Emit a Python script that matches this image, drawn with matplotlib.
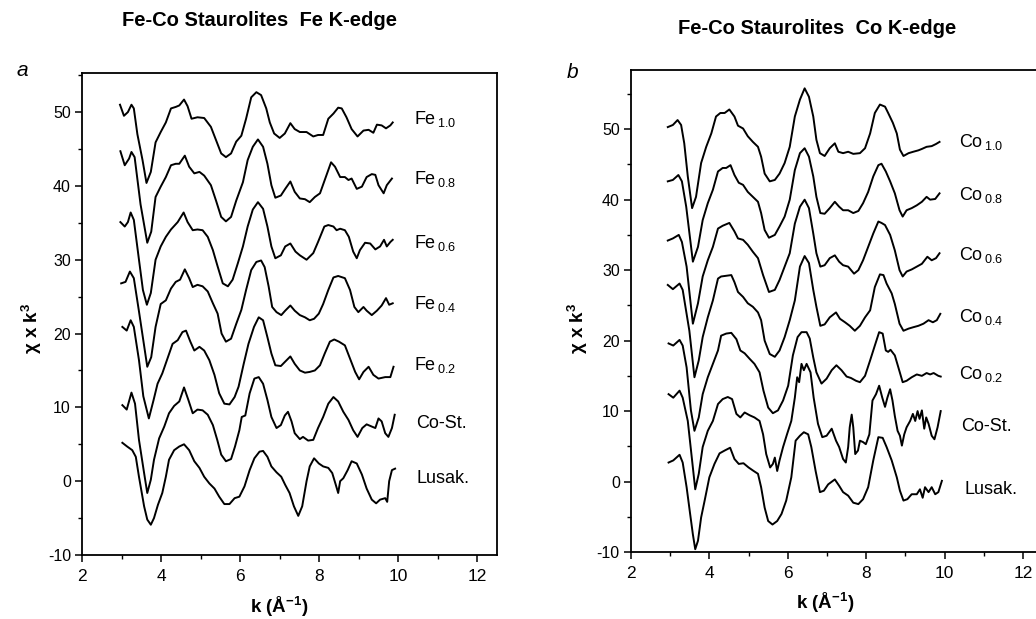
import matplotlib.pyplot as plt
from matplotlib.ticker import MultipleLocator

plt.rcParams['font.family'] = ['Liberation Sans', 'DejaVu Sans']
plt.rcParams['mathtext.default'] = 'regular'
plt.rcParams['axes.unicode_minus'] = False

# ---- panel a: Fe K-edge, (k, chi*k^3) ----
fe_10 = [(2.96, 51.0), (3.06, 49.5), (3.16, 50.0), (3.25, 51.0), (3.31, 50.5), (3.40, 47.0), (3.53, 43.5),
         (3.63, 40.4), (3.74, 41.9), (3.86, 45.9), (3.99, 47.3), (4.12, 48.6), (4.25, 50.5), (4.37, 50.7),
         (4.46, 50.9), (4.58, 51.7), (4.67, 50.8), (4.77, 49.1), (4.92, 49.3), (5.09, 49.2), (5.26, 48.0),
         (5.39, 46.2), (5.52, 44.4), (5.64, 43.9), (5.77, 44.4), (5.90, 46.0), (6.03, 46.8), (6.15, 49.1),
         (6.28, 52.0), (6.41, 52.7), (6.53, 52.3), (6.66, 50.5), (6.75, 48.6), (6.86, 47.1), (7.00, 46.5),
         (7.13, 47.1), (7.27, 48.5), (7.38, 47.7), (7.51, 47.3), (7.68, 47.3), (7.85, 46.7), (7.97, 46.9),
         (8.10, 46.9), (8.23, 49.1), (8.36, 49.8), (8.48, 50.6), (8.57, 50.5), (8.69, 49.3), (8.82, 47.7),
         (8.97, 46.7), (9.12, 47.5), (9.25, 47.6), (9.37, 47.2), (9.46, 48.3), (9.58, 48.2), (9.69, 47.8),
         (9.80, 48.2), (9.86, 48.6)]
fe_08 = [(2.97, 44.7), (3.08, 42.8), (3.19, 43.7), (3.25, 44.6), (3.33, 43.9), (3.48, 37.5), (3.65, 32.3),
         (3.75, 33.8), (3.86, 38.5), (3.99, 39.9), (4.12, 41.2), (4.25, 42.8), (4.37, 43.0), (4.46, 43.0),
         (4.60, 44.1), (4.71, 42.6), (4.84, 41.7), (4.97, 41.9), (5.09, 41.4), (5.26, 40.1), (5.39, 38.0),
         (5.52, 35.8), (5.64, 35.2), (5.77, 35.8), (5.90, 38.0), (6.07, 40.5), (6.19, 43.5), (6.32, 45.3),
         (6.45, 46.3), (6.58, 45.3), (6.69, 43.0), (6.79, 40.1), (6.89, 38.4), (7.03, 38.7), (7.14, 39.6),
         (7.27, 40.6), (7.38, 39.2), (7.51, 38.3), (7.64, 38.2), (7.76, 37.8), (7.89, 38.5), (8.02, 39.0),
         (8.14, 40.8), (8.30, 43.2), (8.40, 42.6), (8.53, 41.2), (8.65, 41.2), (8.74, 40.8), (8.82, 41.0),
         (8.95, 39.6), (9.08, 39.9), (9.20, 41.2), (9.33, 41.6), (9.42, 41.5), (9.50, 40.1), (9.63, 39.0),
         (9.71, 40.1), (9.84, 41.0)]
fe_06 = [(2.97, 35.1), (3.08, 34.5), (3.16, 35.1), (3.23, 36.4), (3.31, 35.4), (3.44, 30.0), (3.54, 25.9),
         (3.64, 23.9), (3.74, 25.5), (3.86, 30.0), (3.99, 31.8), (4.12, 33.1), (4.25, 34.1), (4.42, 35.1),
         (4.57, 36.4), (4.67, 35.1), (4.80, 34.0), (4.92, 34.1), (5.05, 34.0), (5.18, 33.1), (5.31, 31.3),
         (5.43, 29.1), (5.56, 26.8), (5.69, 26.4), (5.81, 27.3), (5.94, 29.5), (6.07, 31.8), (6.19, 34.5),
         (6.32, 36.8), (6.45, 37.8), (6.58, 36.9), (6.69, 34.5), (6.79, 31.8), (6.89, 30.2), (7.03, 30.6),
         (7.14, 31.8), (7.27, 32.2), (7.40, 31.1), (7.51, 30.6), (7.68, 30.0), (7.85, 30.9), (7.97, 32.4),
         (8.13, 34.5), (8.23, 34.7), (8.36, 34.5), (8.44, 34.0), (8.53, 34.2), (8.65, 34.0), (8.75, 33.1),
         (8.86, 31.1), (8.95, 30.2), (9.03, 31.3), (9.16, 32.3), (9.29, 32.2), (9.42, 31.4), (9.54, 31.8),
         (9.64, 32.7), (9.71, 31.8), (9.80, 32.4), (9.86, 32.7)]
fe_04 = [(2.99, 26.8), (3.10, 27.0), (3.21, 28.4), (3.31, 27.5), (3.44, 23.0), (3.65, 15.5), (3.75, 16.8),
         (3.86, 20.9), (3.99, 24.0), (4.12, 24.5), (4.25, 26.1), (4.37, 27.0), (4.48, 27.3), (4.60, 28.7),
         (4.71, 27.5), (4.80, 26.3), (4.92, 26.6), (5.05, 26.4), (5.18, 25.7), (5.31, 24.1), (5.43, 22.7),
         (5.53, 20.0), (5.64, 18.9), (5.77, 19.3), (5.90, 21.3), (6.03, 23.2), (6.15, 25.9), (6.28, 28.6),
         (6.41, 29.7), (6.53, 29.9), (6.62, 29.0), (6.72, 26.4), (6.81, 23.6), (6.92, 22.9), (7.04, 22.5),
         (7.14, 23.1), (7.27, 23.8), (7.38, 23.1), (7.51, 22.5), (7.64, 22.2), (7.76, 21.8), (7.87, 22.0),
         (7.99, 22.7), (8.10, 24.0), (8.23, 25.9), (8.36, 27.6), (8.48, 27.8), (8.65, 27.5), (8.78, 25.9),
         (8.89, 23.6), (8.99, 22.9), (9.12, 23.6), (9.20, 23.1), (9.33, 22.5), (9.46, 23.1), (9.58, 23.8),
         (9.69, 24.8), (9.77, 23.9), (9.86, 24.1)]
fe_02 = [(3.02, 20.9), (3.13, 20.4), (3.23, 21.8), (3.31, 20.9), (3.44, 16.4), (3.55, 11.5), (3.69, 8.5),
         (3.81, 11.0), (3.91, 13.2), (4.03, 14.6), (4.16, 16.6), (4.29, 18.6), (4.42, 19.1), (4.54, 20.2),
         (4.63, 20.4), (4.74, 18.9), (4.84, 17.7), (4.97, 18.2), (5.09, 17.7), (5.22, 16.4), (5.35, 14.4),
         (5.47, 11.9), (5.60, 10.5), (5.73, 10.4), (5.86, 11.4), (5.96, 12.8), (6.09, 15.9), (6.21, 18.6),
         (6.35, 20.9), (6.47, 22.2), (6.58, 21.8), (6.69, 19.5), (6.79, 17.3), (6.89, 15.7), (7.03, 15.6),
         (7.14, 16.2), (7.27, 16.9), (7.38, 15.9), (7.51, 15.0), (7.64, 14.7), (7.76, 14.8), (7.89, 15.0),
         (8.02, 15.7), (8.14, 17.3), (8.27, 18.9), (8.38, 19.2), (8.50, 18.9), (8.65, 18.4), (8.78, 16.6),
         (8.91, 14.8), (9.01, 13.8), (9.12, 14.8), (9.25, 15.5), (9.37, 14.4), (9.50, 13.9), (9.67, 14.1),
         (9.80, 14.1), (9.88, 15.5)]
cost_a = [(3.02, 10.3), (3.13, 9.7), (3.25, 12.0), (3.34, 10.5), (3.44, 5.6), (3.57, 1.1), (3.65, -1.6),
          (3.74, 0.2), (3.82, 2.9), (3.95, 5.8), (4.08, 7.4), (4.20, 9.2), (4.33, 10.2), (4.46, 10.8),
          (4.58, 12.7), (4.69, 11.0), (4.80, 9.2), (4.92, 9.7), (5.05, 9.6), (5.18, 9.0), (5.31, 7.6),
          (5.42, 5.6), (5.52, 3.6), (5.64, 2.7), (5.77, 3.0), (5.87, 4.7), (5.98, 6.9), (6.04, 8.7),
          (6.13, 8.9), (6.24, 11.9), (6.36, 13.9), (6.47, 14.1), (6.58, 13.2), (6.69, 11.0), (6.79, 8.7),
          (6.92, 7.2), (7.03, 7.6), (7.13, 8.9), (7.21, 9.4), (7.30, 8.1), (7.38, 6.5), (7.51, 5.7),
          (7.59, 6.0), (7.72, 5.5), (7.85, 5.6), (7.97, 7.2), (8.10, 8.7), (8.23, 10.5), (8.36, 11.4),
          (8.48, 10.8), (8.61, 9.4), (8.74, 8.3), (8.86, 6.9), (8.97, 6.0), (9.09, 7.2), (9.20, 7.7),
          (9.33, 7.4), (9.42, 7.2), (9.50, 8.5), (9.58, 8.1), (9.67, 6.5), (9.75, 6.0), (9.84, 7.2),
          (9.91, 9.0)]
lusak_a = [(3.02, 5.2), (3.14, 4.7), (3.27, 4.2), (3.36, 3.3), (3.44, 0.6), (3.57, -3.4), (3.65, -5.2),
           (3.74, -5.9), (3.82, -5.0), (3.92, -3.2), (4.03, -1.6), (4.12, 0.6), (4.20, 2.9), (4.33, 4.2),
           (4.46, 4.7), (4.58, 5.0), (4.71, 4.2), (4.84, 2.7), (4.97, 1.8), (5.09, 0.6), (5.22, -0.3),
           (5.35, -1.0), (5.47, -2.1), (5.60, -3.1), (5.73, -3.1), (5.86, -2.3), (5.98, -2.1), (6.11, -0.7),
           (6.24, 1.5), (6.36, 3.1), (6.49, 4.0), (6.58, 4.1), (6.69, 3.3), (6.79, 2.0), (6.92, 1.2),
           (7.04, 0.6), (7.14, -0.5), (7.25, -1.6), (7.36, -3.4), (7.47, -4.7), (7.57, -3.4), (7.68, 0.0),
           (7.76, 2.0), (7.87, 3.1), (7.99, 2.4), (8.10, 2.0), (8.23, 1.8), (8.33, 1.1), (8.42, -0.5),
           (8.48, -1.6), (8.53, 0.0), (8.61, 0.4), (8.72, 1.5), (8.82, 2.7), (8.95, 2.4), (9.08, 0.9),
           (9.20, -1.0), (9.33, -2.5), (9.44, -3.0), (9.54, -2.5), (9.67, -2.3), (9.72, -2.8), (9.77, 0.0),
           (9.84, 1.5), (9.92, 1.7)]

# ---- panel b: Co K-edge ----
co_10 = [(2.94, 50.3), (3.07, 50.6), (3.19, 51.3), (3.28, 50.6), (3.36, 48.0), (3.45, 43.3), (3.56, 38.8),
         (3.66, 40.4), (3.79, 45.2), (3.92, 47.5), (4.05, 49.4), (4.17, 51.8), (4.28, 52.3), (4.39, 52.3),
         (4.51, 52.8), (4.64, 51.8), (4.73, 50.5), (4.86, 50.1), (4.98, 49.0), (5.11, 48.2), (5.24, 47.5),
         (5.32, 46.1), (5.41, 43.7), (5.54, 42.6), (5.67, 42.8), (5.79, 43.7), (5.92, 45.2), (6.05, 47.5),
         (6.18, 51.8), (6.31, 54.2), (6.43, 55.8), (6.54, 54.6), (6.65, 51.8), (6.73, 48.5), (6.82, 46.6),
         (6.94, 46.2), (7.07, 47.3), (7.20, 48.0), (7.29, 46.8), (7.41, 46.6), (7.54, 46.8), (7.67, 46.5),
         (7.84, 46.6), (7.97, 47.3), (8.10, 49.4), (8.22, 52.3), (8.35, 53.5), (8.48, 53.2), (8.56, 52.3),
         (8.68, 50.9), (8.78, 49.4), (8.86, 47.1), (8.95, 46.2), (9.08, 46.6), (9.20, 46.8), (9.33, 47.0),
         (9.42, 47.2), (9.54, 47.5), (9.67, 47.6), (9.78, 47.9), (9.87, 48.2)]
co_08 = [(2.94, 42.6), (3.07, 42.8), (3.21, 43.5), (3.30, 42.6), (3.41, 39.0), (3.58, 31.2), (3.71, 33.3),
         (3.83, 37.1), (3.96, 39.5), (4.09, 41.4), (4.22, 44.0), (4.34, 44.5), (4.43, 44.5), (4.54, 44.9),
         (4.64, 43.5), (4.75, 42.4), (4.86, 42.1), (4.98, 41.1), (5.11, 40.4), (5.24, 39.7), (5.32, 38.1),
         (5.41, 35.7), (5.52, 34.6), (5.67, 35.0), (5.79, 36.2), (5.92, 37.6), (6.05, 40.0), (6.18, 44.2),
         (6.31, 46.6), (6.43, 47.3), (6.54, 46.1), (6.65, 43.3), (6.73, 40.4), (6.83, 38.1), (6.94, 38.0),
         (7.07, 38.8), (7.20, 39.7), (7.31, 39.0), (7.41, 38.5), (7.54, 38.5), (7.67, 38.1), (7.80, 38.4),
         (7.92, 39.5), (8.05, 41.1), (8.18, 43.3), (8.31, 44.9), (8.39, 45.1), (8.50, 44.0), (8.61, 42.6),
         (8.73, 40.9), (8.85, 38.5), (8.93, 37.6), (9.03, 38.5), (9.16, 38.8), (9.29, 39.2), (9.42, 39.7),
         (9.54, 40.4), (9.63, 40.0), (9.76, 40.1), (9.87, 40.9)]
co_06 = [(2.94, 34.2), (3.07, 34.5), (3.22, 35.0), (3.30, 34.0), (3.42, 30.5), (3.58, 22.4), (3.71, 25.3),
         (3.83, 29.1), (3.96, 31.4), (4.09, 33.3), (4.22, 35.9), (4.34, 36.3), (4.51, 36.7), (4.64, 35.5),
         (4.73, 34.5), (4.86, 34.3), (4.98, 33.6), (5.11, 32.6), (5.24, 31.7), (5.37, 29.3), (5.52, 26.9),
         (5.67, 27.2), (5.79, 28.6), (5.92, 30.5), (6.05, 32.4), (6.18, 36.6), (6.31, 39.0), (6.43, 40.0),
         (6.54, 38.8), (6.65, 35.2), (6.73, 32.4), (6.83, 30.5), (6.94, 30.7), (7.07, 31.7), (7.20, 32.1),
         (7.31, 31.2), (7.41, 30.7), (7.54, 30.5), (7.69, 29.5), (7.80, 30.0), (7.92, 31.4), (8.05, 33.3),
         (8.18, 35.2), (8.31, 36.9), (8.39, 36.7), (8.48, 36.4), (8.61, 35.0), (8.73, 32.8), (8.85, 30.0),
         (8.93, 29.1), (9.03, 29.8), (9.16, 30.1), (9.29, 30.5), (9.42, 30.9), (9.56, 31.9), (9.67, 31.4),
         (9.78, 31.7), (9.87, 32.4)]
co_04 = [(2.94, 27.9), (3.07, 27.3), (3.24, 28.1), (3.32, 27.2), (3.49, 21.4), (3.62, 14.8), (3.73, 17.2),
         (3.83, 20.5), (3.96, 23.3), (4.09, 25.7), (4.22, 28.8), (4.30, 29.1), (4.43, 29.2), (4.56, 29.3),
         (4.64, 28.3), (4.73, 26.9), (4.86, 26.2), (4.98, 25.3), (5.11, 24.8), (5.24, 24.0), (5.32, 22.9),
         (5.41, 20.0), (5.54, 18.1), (5.67, 17.7), (5.79, 18.6), (5.92, 20.5), (6.05, 22.9), (6.18, 25.7),
         (6.31, 30.5), (6.43, 32.0), (6.54, 31.0), (6.65, 27.2), (6.73, 24.8), (6.83, 22.1), (6.94, 22.3),
         (7.07, 23.3), (7.23, 24.0), (7.33, 23.1), (7.46, 22.6), (7.58, 22.1), (7.71, 21.4), (7.84, 22.1),
         (7.97, 23.3), (8.10, 24.3), (8.22, 27.6), (8.35, 29.4), (8.44, 29.3), (8.52, 28.1), (8.65, 26.7),
         (8.73, 25.2), (8.85, 22.4), (8.95, 21.4), (9.08, 21.7), (9.20, 21.9), (9.33, 22.1), (9.46, 22.4),
         (9.59, 22.9), (9.70, 22.6), (9.80, 22.9), (9.89, 23.8)]
co_02 = [(2.96, 19.6), (3.08, 19.3), (3.24, 20.1), (3.32, 19.3), (3.42, 16.2), (3.53, 10.1), (3.62, 7.2),
         (3.73, 9.1), (3.83, 12.4), (3.96, 14.8), (4.09, 16.7), (4.22, 18.6), (4.30, 20.7), (4.43, 21.0),
         (4.56, 21.1), (4.69, 20.2), (4.79, 18.6), (4.90, 18.2), (5.03, 17.4), (5.15, 16.7), (5.28, 15.5),
         (5.38, 12.9), (5.50, 10.5), (5.62, 9.7), (5.75, 10.1), (5.88, 11.5), (6.01, 13.6), (6.13, 17.9),
         (6.25, 20.5), (6.35, 21.2), (6.48, 21.2), (6.56, 20.3), (6.65, 17.6), (6.73, 15.5), (6.86, 13.9),
         (6.99, 14.6), (7.12, 15.8), (7.24, 16.5), (7.37, 15.8), (7.50, 14.9), (7.61, 14.7), (7.74, 14.3),
         (7.84, 14.1), (7.97, 15.0), (8.10, 17.2), (8.22, 19.3), (8.33, 21.2), (8.42, 21.0), (8.50, 18.6),
         (8.56, 18.4), (8.62, 18.7), (8.73, 17.9), (8.82, 16.2), (8.93, 14.1), (9.03, 14.3), (9.16, 14.8),
         (9.29, 15.2), (9.42, 15.0), (9.54, 15.4), (9.63, 15.2), (9.72, 15.4), (9.84, 15.0), (9.90, 14.9)]
cost_b = [(2.96, 12.4), (3.08, 11.9), (3.24, 12.9), (3.32, 11.9), (3.45, 8.6), (3.56, 3.0), (3.64, -1.1),
          (3.73, 1.1), (3.83, 4.9), (3.96, 7.2), (4.09, 8.6), (4.22, 11.0), (4.34, 11.7), (4.47, 12.0),
          (4.58, 11.7), (4.69, 9.6), (4.79, 9.1), (4.90, 9.8), (5.03, 9.4), (5.15, 9.1), (5.28, 8.6),
          (5.37, 6.7), (5.45, 3.9), (5.55, 2.0), (5.62, 2.5), (5.67, 3.4), (5.73, 1.5), (5.79, 3.0),
          (5.88, 4.9), (5.98, 6.7), (6.09, 8.6), (6.18, 11.9), (6.24, 14.8), (6.29, 14.1), (6.35, 16.7),
          (6.41, 15.8), (6.48, 16.7), (6.58, 15.5), (6.66, 11.9), (6.77, 8.2), (6.88, 6.3), (6.99, 6.5),
          (7.12, 7.5), (7.23, 5.8), (7.31, 4.9), (7.41, 3.2), (7.48, 2.7), (7.54, 4.9), (7.58, 7.7),
          (7.63, 9.5), (7.67, 7.7), (7.72, 3.9), (7.79, 4.4), (7.84, 5.8), (7.92, 5.6), (7.99, 5.3),
          (8.08, 6.7), (8.16, 11.5), (8.25, 12.4), (8.33, 13.6), (8.41, 11.9), (8.48, 10.6), (8.54, 11.9),
          (8.61, 13.1), (8.67, 11.5), (8.73, 9.3), (8.80, 7.2), (8.86, 6.5), (8.91, 5.1), (8.97, 6.7),
          (9.03, 7.7), (9.12, 8.6), (9.19, 9.6), (9.25, 8.6), (9.31, 10.0), (9.36, 8.9), (9.42, 10.1),
          (9.48, 7.5), (9.53, 9.1), (9.59, 8.2), (9.67, 6.5), (9.74, 6.0), (9.82, 7.7), (9.90, 10.0)]
lusak_b = [(2.96, 2.7), (3.08, 3.0), (3.24, 3.8), (3.32, 2.7), (3.42, -0.8), (3.51, -4.6), (3.58, -7.5),
           (3.64, -9.6), (3.71, -8.4), (3.79, -5.1), (3.88, -2.7), (4.00, 0.6), (4.13, 2.5), (4.26, 4.0),
           (4.39, 4.4), (4.53, 4.8), (4.64, 3.2), (4.75, 2.5), (4.87, 2.6), (5.00, 2.0), (5.13, 1.5),
           (5.24, 1.1), (5.32, -0.8), (5.41, -3.7), (5.50, -5.6), (5.61, -6.1), (5.73, -5.6), (5.84, -4.6),
           (5.96, -2.7), (6.09, 0.6), (6.20, 5.8), (6.31, 6.5), (6.41, 7.0), (6.52, 6.7), (6.60, 4.9),
           (6.71, 1.5), (6.82, -1.5), (6.92, -1.3), (7.03, -0.4), (7.20, 0.3), (7.31, -0.6), (7.41, -1.5),
           (7.54, -2.0), (7.67, -3.0), (7.80, -3.2), (7.92, -2.5), (8.05, -0.8), (8.18, 3.0), (8.31, 6.3),
           (8.42, 6.2), (8.52, 4.9), (8.65, 3.0), (8.78, 0.6), (8.86, -1.3), (8.95, -2.7), (9.05, -2.5),
           (9.16, -1.8), (9.29, -1.8), (9.37, -1.1), (9.44, -2.3), (9.50, -0.8), (9.59, -1.5), (9.67, -0.8),
           (9.76, -1.8), (9.84, -1.5), (9.93, 0.1)]

fe_names = [r'Fe$_{\,1.0}$', r'Fe$_{\,0.8}$', r'Fe$_{\,0.6}$', r'Fe$_{\,0.4}$', r'Fe$_{\,0.2}$',
            'Co-St.', 'Lusak.']
co_names = [r'Co$_{\,1.0}$', r'Co$_{\,0.8}$', r'Co$_{\,0.6}$', r'Co$_{\,0.4}$', r'Co$_{\,0.2}$',
            'Co-St.', 'Lusak.']

# where the sample names sit (layout only)
fe_label_y = [49.0, 41.0, 32.3, 24.0, 15.7, 7.8, 0.3]
fe_label_x = [10.4, 10.4, 10.4, 10.4, 10.4, 10.45, 10.45]
co_label_y = [48.2, 40.7, 32.2, 23.4, 15.2, 7.8, -1.1]
co_label_x = [10.37, 10.37, 10.37, 10.37, 10.37, 10.42, 10.5]


def draw_panel(ax, curves, names, lab_x, lab_y, xmax, ymax):
    for pts, name, lx, ly in zip(curves, names, lab_x, lab_y):
        k, chi = zip(*pts)
        ax.plot(k, chi, color='black', lw=1.4, solid_joinstyle='round')
        ax.text(lx, ly, name, fontsize=13, va='center', ha='left')
    ax.set_xlim(2, xmax)
    ax.set_ylim(-10, ymax)
    ax.xaxis.set_major_locator(MultipleLocator(2))
    ax.xaxis.set_minor_locator(MultipleLocator(1))
    ax.yaxis.set_major_locator(MultipleLocator(10))
    ax.yaxis.set_minor_locator(MultipleLocator(5))
    ax.tick_params(which='major', direction='out', length=5, width=1.1)
    ax.tick_params(which='minor', direction='out', length=3, width=1.0)
    ax.tick_params(axis='x', labelsize=12.5, pad=5)
    ax.tick_params(axis='y', labelsize=11.5, pad=3)
    for s in ax.spines.values():
        s.set_linewidth(1.3)


fig = plt.figure(figsize=(10.36, 6.19), dpi=100)
ax_a = fig.add_axes([0.0792, 0.1034, 0.4006, 0.7787])
ax_b = fig.add_axes([0.609, 0.1082, 0.391, 0.7787])

draw_panel(ax_a, [fe_10, fe_08, fe_06, fe_04, fe_02, cost_a, lusak_a],
           fe_names, fe_label_x, fe_label_y, 12.5, 55.3)
draw_panel(ax_b, [co_10, co_08, co_06, co_04, co_02, cost_b, lusak_b],
           co_names, co_label_x, co_label_y, 12.33, 58.4)
ax_b.spines['right'].set_visible(False)

fig.text(259 / 1036, 1 - 20 / 619, 'Fe-Co Staurolites  Fe K-edge', ha='center', va='center',
         fontsize=14.5, fontweight='bold')
fig.text(817 / 1036, 1 - 28 / 619, 'Fe-Co Staurolites  Co K-edge', ha='center', va='center',
         fontsize=14.5, fontweight='bold')
fig.text(22 / 1036, 1 - 70 / 619, 'a', ha='center', va='center', fontsize=15, style='italic')
fig.text(573 / 1036, 1 - 73 / 619, 'b', ha='center', va='center', fontsize=15, style='italic')

for x in (32, 578):
    fig.text(x / 1036, 1 - 328 / 619, 'χ x k$^3$', rotation=90, ha='center', va='center',
             fontsize=13.5, fontweight='bold')
fig.text(279 / 1036, 1 - 607 / 619, 'k (Å$^{-1}$)', ha='center', va='center',
         fontsize=13.5, fontweight='bold')
fig.text(825 / 1036, 1 - 603 / 619, 'k (Å$^{-1}$)', ha='center', va='center',
         fontsize=13.5, fontweight='bold')

fig.savefig('out.png', dpi=100)
